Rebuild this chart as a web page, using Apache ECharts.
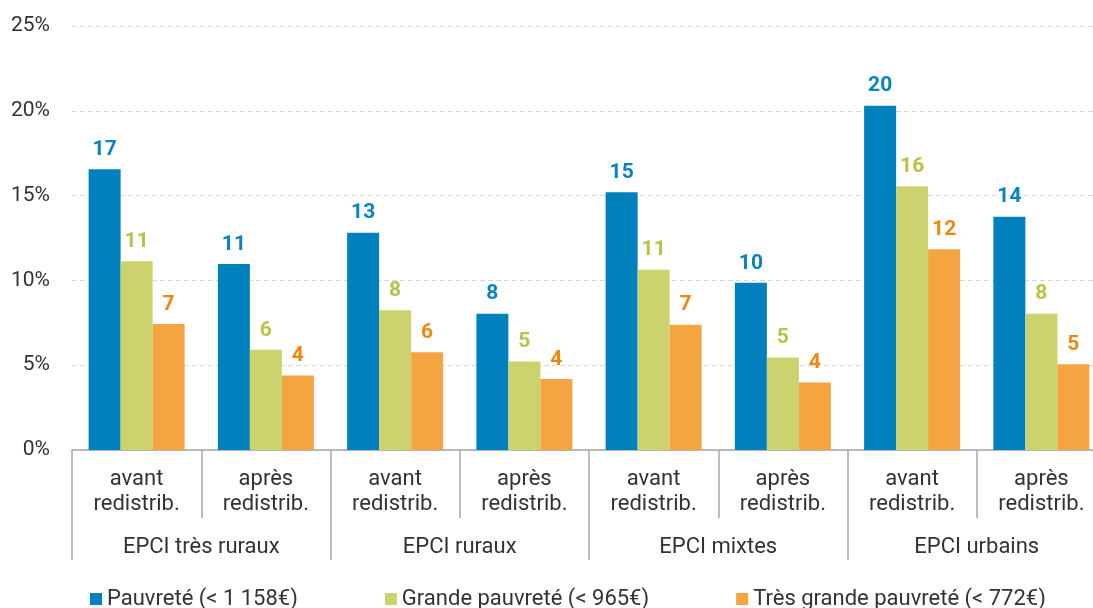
<!DOCTYPE html>
<html>
<head>
<meta charset="utf-8">
<script src="https://cdn.jsdelivr.net/npm/echarts@6/dist/echarts.min.js"></script>
<style>
  html, body { margin: 0; padding: 0; background: #fff; }
  #chart { width: 1093px; height: 608px; }
</style>
</head>
<body>
<div id="chart"></div>
<script>
// categories
var steps = ['avant\nredistrib.', 'après\nredistrib.', 'avant\nredistrib.', 'après\nredistrib.',
  'avant\nredistrib.', 'après\nredistrib.', 'avant\nredistrib.', 'après\nredistrib.']
var groups = ['EPCI très ruraux', 'EPCI ruraux', 'EPCI mixtes', 'EPCI urbains']
var seriesNames = ['Pauvreté (< 1 158€)', 'Grande pauvreté (< 965€)', 'Très grande pauvreté (< 772€)']

// values in %
var pauvrete = [16.55, 10.97, 12.81, 8.04, 15.2, 9.86, 20.3, 13.76]
var grandePauvrete = [11.13, 5.91, 8.24, 5.22, 10.63, 5.45, 15.55, 8.04]
var tresGrandePauvrete = [7.43, 4.4, 5.77, 4.18, 7.39, 3.98, 11.83, 5.06]

var yTicks = [0, 5, 10, 15, 20, 25]

var barColors = ['#0080bc', '#cbd26e', '#f4a542']
var labelColors = ['#0a84c1', '#b8c348', '#ef870f']

var chart = echarts.init(document.getElementById('chart'))

function makeSeries (name, data, i) {
  return {
    name: name,
    type: 'bar',
    xAxisIndex: 0,
    barWidth: 32,
    barGap: '0%',
    itemStyle: { color: barColors[i] },
    label: {
      show: true,
      position: 'top',
      distance: 9,
      color: labelColors[i],
      fontFamily: 'Roboto',
      fontWeight: 'bold',
      fontSize: 21,
      formatter: function (p) { return Math.round(p.value) }
    },
    data: data
  }
}

var option = {
  animation: false,
  textStyle: { fontFamily: 'Roboto' },
  grid: { left: 72, top: 26, width: 1034, height: 424, outerBoundsMode: 'none', containLabel: false },
  legend: {
    top: 588,
    left: 90,
    padding: 0,
    itemWidth: 12,
    itemHeight: 12,
    itemGap: 87,
    icon: 'rect',
    textStyle: { fontSize: 22, color: '#333', fontFamily: 'Roboto' },
    data: seriesNames
  },
  xAxis: [
    {
      type: 'category',
      data: steps,
      position: 'bottom',
      axisLine: { lineStyle: { color: '#a6a6a6', width: 1.5 } },
      axisTick: { show: true, length: 68, interval: 0, lineStyle: { color: '#a6a6a6', width: 1.5 } },
      axisLabel: { interval: 0, margin: 17, fontSize: 22, lineHeight: 25, color: '#333' }
    },
    {
      type: 'category',
      data: groups,
      position: 'bottom',
      axisLine: { show: false },
      axisTick: { show: true, length: 110, interval: 0, lineStyle: { color: '#a6a6a6', width: 1.5 } },
      axisLabel: { interval: 0, margin: 86, fontSize: 22, color: '#333' }
    }
  ],
  yAxis: {
    type: 'value',
    min: yTicks[0],
    max: yTicks[yTicks.length - 1],
    interval: 5,
    axisLine: { show: false },
    axisTick: { show: false },
    axisLabel: { formatter: '{value}%', fontSize: 21, color: '#333', margin: 22 },
    splitLine: { lineStyle: { color: '#d9d9d9', type: [5, 3] } }
  },
  series: [
    makeSeries(seriesNames[0], pauvrete, 0),
    makeSeries(seriesNames[1], grandePauvrete, 1),
    makeSeries(seriesNames[2], tresGrandePauvrete, 2)
  ]
}

chart.setOption(option)
</script>
</body>
</html>
